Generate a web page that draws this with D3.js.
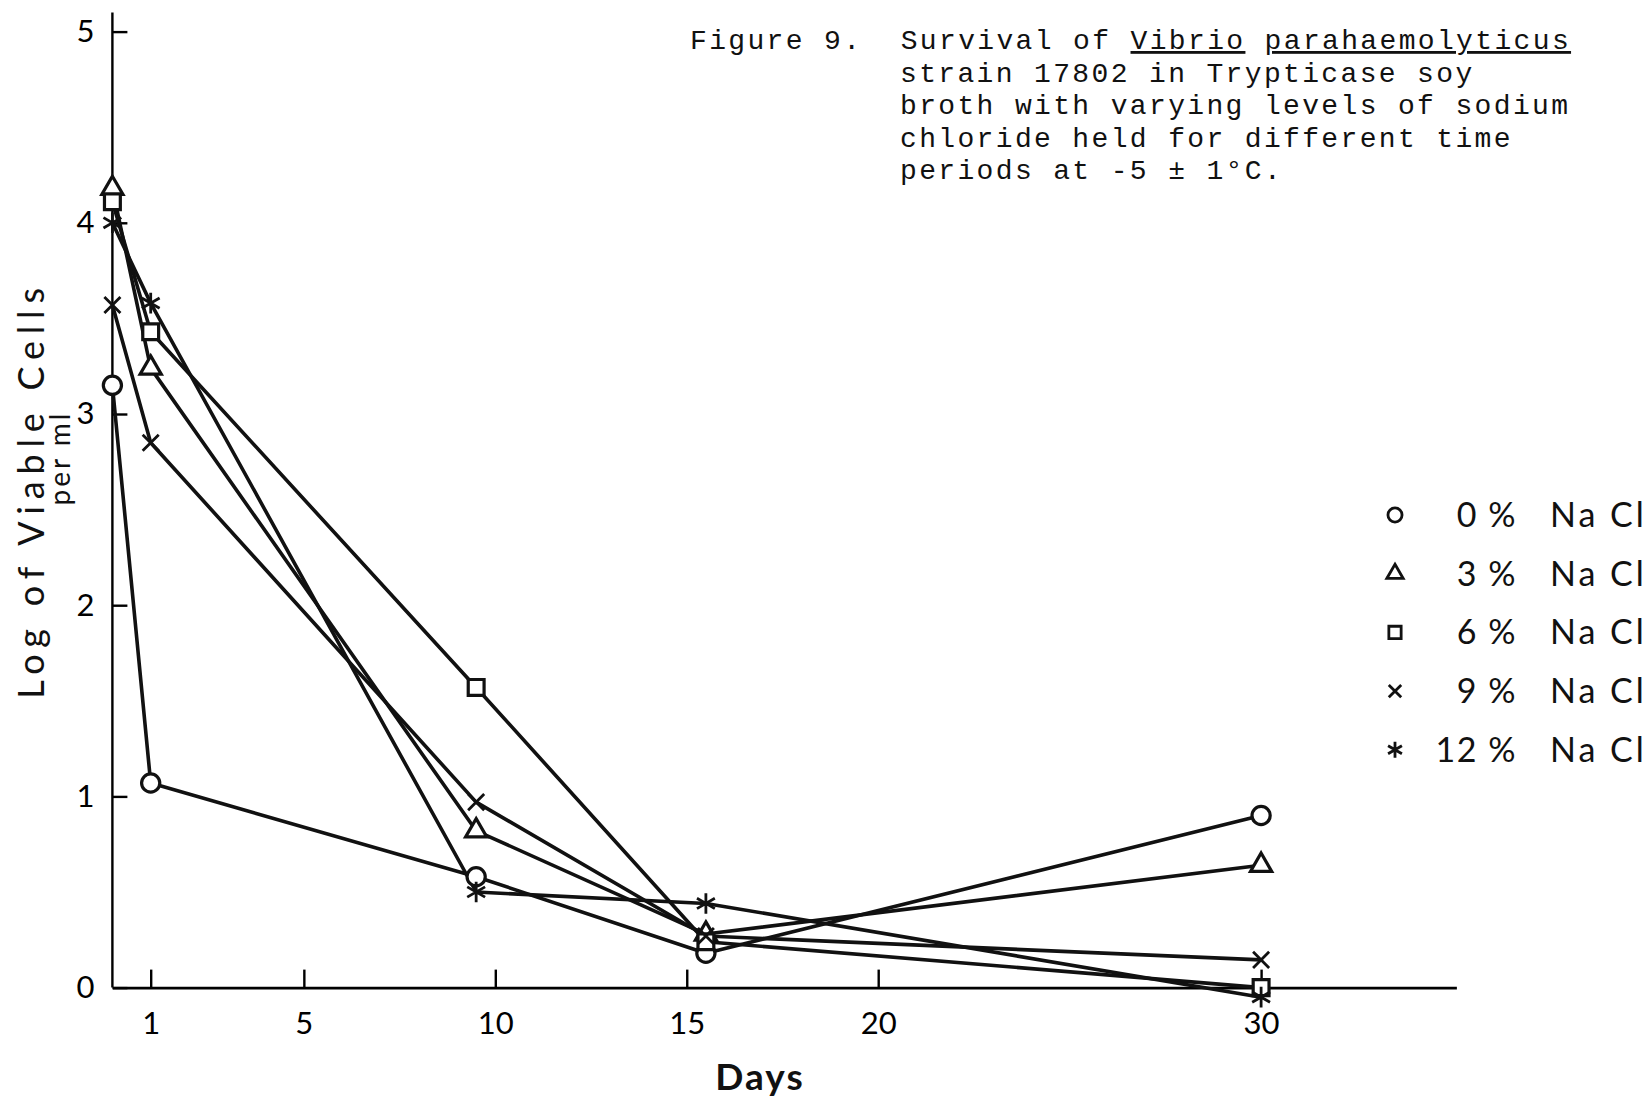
<!DOCTYPE html>
<html>
<head>
<meta charset="utf-8">
<script src="https://cdn.jsdelivr.net/npm/d3@7"></script>
<style>
  body { margin: 0; background: #fff; }
  svg { display: block; }
  .tick text { font-family: Lato, "DejaVu Sans", sans-serif; }
</style>
</head>
<body>
<div id="chart"></div>
<script>
"use strict";

var days = [0, 1, 9.5, 15.5, 30];
var nacl0 = [3.15, 1.07, 0.58, 0.18, 0.90];
var nacl3 = [4.18, 3.24, 0.82, 0.28, 0.64];
var nacl6 = [4.11, 3.43, 1.57, 0.24, 0.00];
var nacl9 = [3.57, 2.85, 0.97, 0.27, 0.145];
var nacl12 = [4.00, 3.58, 0.50, 0.44, -0.05];
var percents = ["0 %", "3 %", "6 %", "9 %", "12 %"];
var xTicks = [1, 5, 10, 15, 20, 30];
var yTicks = [0, 1, 2, 3, 4, 5];
var titleLines = [
  "strain 17802 in Trypticase soy",
  "broth with varying levels of sodium",
  "chloride held for different time",
  "periods at -5 \u00b1 1\u00b0C."
];

initChart(document.getElementById("chart"));

function initChart(element) {
  var width = 1651,
    height = 1098;

  var series = [nacl0, nacl3, nacl6, nacl9, nacl12].map(function(vals, i) {
    return {
      label: percents[i],
      points: vals.map(function(v, j) { return { day: days[j], value: v }; })
    };
  });

  var symbols = [d3.symbolCircle, d3.symbolTriangle2, d3.symbolSquare2, d3.symbolTimes, d3.symbolAsterisk];
  var symbolSizes = [260, 320, 320, 170, 300];

  var x = d3.scaleLinear().domain([0, 35.1]).range([112.4, 112.4 + 35.1 * 38.29]);
  var y = d3.scaleLinear().domain([0, 5]).range([987.6, 987.6 - 5 * 191.2]);

  var svg = d3.select(element).append("svg")
    .attr("width", width)
    .attr("height", height);

  // axes
  var xAxis = svg.append("g")
    .attr("transform", "translate(0," + y(0) + ")")
    .call(d3.axisBottom(x).tickValues(xTicks).tickSizeInner(-18).tickSizeOuter(0).tickPadding(24)
      .tickFormat(d3.format("d")));
  xAxis.select(".domain").attr("stroke-width", 2.6);
  xAxis.selectAll(".tick line").attr("stroke-width", 2.4);
  xAxis.selectAll(".tick text").attr("font-size", 31);

  var yAxis = svg.append("g")
    .attr("transform", "translate(" + x(0) + ",0)")
    .call(d3.axisLeft(y).tickValues(yTicks).tickSizeInner(-15).tickSizeOuter(0).tickPadding(18)
      .tickFormat(d3.format("d")));
  yAxis.select(".domain").attr("d", "M0," + y(0) + "V" + y(5.1)).attr("stroke-width", 2.4);
  yAxis.selectAll(".tick line").attr("stroke-width", 2.4);
  yAxis.selectAll(".tick text").attr("font-size", 31);

  // lines
  var line = d3.line()
    .x(function(d) { return x(d.day); })
    .y(function(d) { return y(d.value); });

  svg.selectAll(".series")
    .data(series)
    .enter().append("path")
    .attr("class", "series")
    .attr("d", function(d) { return line(d.points); })
    .attr("fill", "none")
    .attr("stroke", "#111")
    .attr("stroke-width", 3.6)
    .attr("stroke-linejoin", "round");

  // markers
  series.forEach(function(s, i) {
    var sym = d3.symbol().type(symbols[i]).size(symbolSizes[i]);
    svg.selectAll(".m" + i)
      .data(s.points)
      .enter().append("path")
      .attr("class", "m" + i)
      .attr("transform", function(d) { return "translate(" + x(d.day) + "," + y(d.value) + ")"; })
      .attr("d", sym)
      .attr("fill", "#fff")
      .attr("stroke", "#111")
      .attr("stroke-width", i > 2 ? 2.8 : 3.2);
  });

  // legend
  var legend = svg.selectAll(".legend")
    .data(series)
    .enter().append("g")
    .attr("class", "legend")
    .attr("font-family", "Lato, 'DejaVu Sans', sans-serif")
    .attr("font-size", 34)
    .attr("fill", "#111")
    .attr("transform", function(d, i) { return "translate(0," + (515 + i * 58.7) + ")"; });

  legend.append("path")
    .attr("transform", "translate(1395,0)")
    .attr("d", function(d, i) { return d3.symbol().type(symbols[i]).size(symbolSizes[i] * 0.6)(); })
    .attr("fill", "#fff")
    .attr("stroke", "#111")
    .attr("stroke-width", 2.8);

  legend.append("text")
    .attr("x", 1517)
    .attr("y", 12)
    .attr("text-anchor", "end")
    .attr("letter-spacing", 1.5)
    .text(function(d) { return d.label; });

  legend.append("text")
    .attr("x", 1550)
    .attr("y", 12)
    .attr("letter-spacing", 3)
    .text("Na Cl");

  // axis labels
  svg.append("text")
    .attr("transform", "translate(44,490) rotate(-90)")
    .attr("text-anchor", "middle")
    .attr("font-family", "Lato, 'DejaVu Sans', sans-serif")
    .attr("font-size", 36)
    .attr("letter-spacing", 6.8)
    .attr("fill", "#111")
    .text("Log of Viable Cells");

  svg.append("text")
    .attr("transform", "translate(70,458) rotate(-90)")
    .attr("text-anchor", "middle")
    .attr("font-family", "Lato, 'DejaVu Sans', sans-serif")
    .attr("font-size", 28)
    .attr("letter-spacing", 3)
    .attr("fill", "#111")
    .text("per ml");

  svg.append("text")
    .attr("x", 760)
    .attr("y", 1090)
    .attr("text-anchor", "middle")
    .attr("font-family", "Lato, 'DejaVu Sans', sans-serif")
    .attr("font-size", 37)
    .attr("font-weight", "bold")
    .attr("letter-spacing", 2)
    .attr("fill", "#111")
    .text("Days");

  // caption
  var caption = svg.append("g")
    .attr("font-family", "'Liberation Mono', 'DejaVu Sans Mono', monospace")
    .attr("font-size", 28)
    .attr("letter-spacing", 2.35)
    .attr("fill", "#111");

  var first = caption.append("text")
    .attr("x", 690)
    .attr("y", 49)
    .attr("xml:space", "preserve");
  first.append("tspan").text("Figure 9.  Survival of ");
  first.append("tspan").attr("text-decoration", "underline").text("Vibrio");
  first.append("tspan").text(" ");
  first.append("tspan").attr("text-decoration", "underline").text("parahaemolyticus");

  caption.selectAll(".cap")
    .data(titleLines)
    .enter().append("text")
    .attr("class", "cap")
    .attr("x", 900)
    .attr("y", function(d, i) { return 49 + (i + 1) * 32.6; })
    .text(function(d) { return d; });
}
</script>
</body>
</html>
